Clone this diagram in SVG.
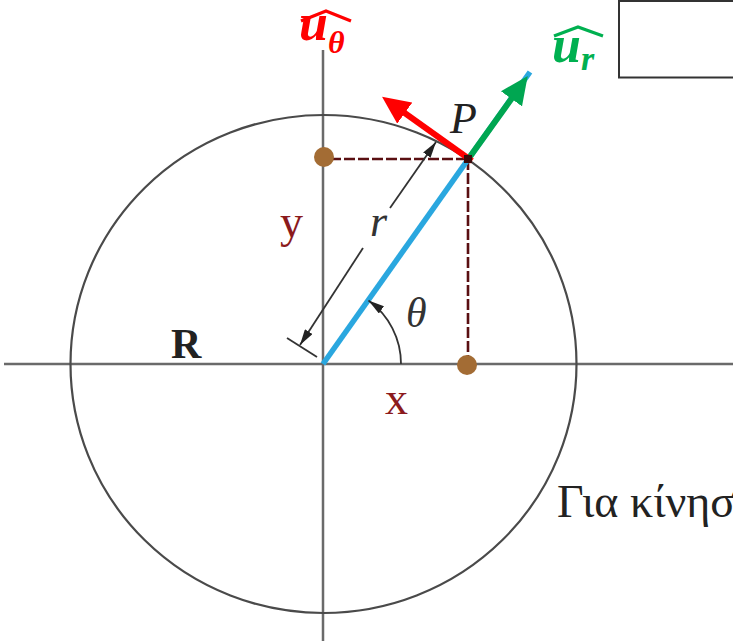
<svg xmlns="http://www.w3.org/2000/svg" width="733" height="641" viewBox="0 0 733 641">
<style>
.axis{stroke:#6a6a6a;stroke-width:2.5;fill:none}
.circ{stroke:#4a4a4a;stroke-width:2.2;fill:none}
.dash{stroke:#5a0f12;stroke-width:2.6;stroke-dasharray:11 3;fill:none}
.dot{fill:#a36c34}
.dim{stroke:#333;stroke-width:1.8;fill:none}
.lbl{font-family:"Liberation Serif","DejaVu Serif",serif}
.mr{fill:#8b1a1c;font-size:46px}
.hat{fill:none;stroke-width:3.2;stroke-linejoin:miter}
</style>
<defs>
<marker id="ahG" viewBox="0 0 28 26" refX="1" refY="13" markerWidth="28" markerHeight="26" markerUnits="userSpaceOnUse" orient="auto"><path d="M0,0 L28,13 L0,26 z" fill="#00a651"/></marker>
<marker id="ahR" viewBox="0 0 28 26" refX="1" refY="13" markerWidth="28" markerHeight="26" markerUnits="userSpaceOnUse" orient="auto"><path d="M0,0 L28,13 L0,26 z" fill="#ff0000"/></marker>
<marker id="ahK" viewBox="0 0 16 9" refX="16" refY="4.5" markerWidth="16" markerHeight="9" markerUnits="userSpaceOnUse" orient="auto"><path d="M0,0 L16,4.5 L0,9 z" fill="#222"/></marker>
</defs>
<rect width="733" height="641" fill="#fff"/>
<g id="axes">
<line class="axis" x1="4" y1="364" x2="733" y2="364"/>
<line class="axis" x1="323" y1="50" x2="323" y2="641"/>
</g>
<g id="circle"><ellipse class="circ" cx="323.5" cy="364" rx="253" ry="249"/></g>
<g id="connectors">
<line class="dash" x1="330" y1="159" x2="468" y2="159"/>
<line class="dash" x1="468" y1="159" x2="468" y2="356"/>
<line id="radius" x1="323" y1="364" x2="530" y2="72" stroke="#2aa7df" stroke-width="5.5"/>
<line class="dim" x1="363" y1="248" x2="300" y2="345" marker-end="url(#ahK)"/>
<line class="dim" x1="390" y1="208" x2="436" y2="142" marker-end="url(#ahK)"/>
<line class="dim" x1="287" y1="338" x2="317" y2="357"/>
<path class="dim" d="M401,364 A78,78 0 0 0 368.5,300.5" marker-end="url(#ahK)"/>
<line x1="469" y1="158" x2="512" y2="98" stroke="#00a651" stroke-width="6" marker-end="url(#ahG)"/>
<line x1="472" y1="161" x2="404" y2="112.5" stroke="#ff0000" stroke-width="6" marker-end="url(#ahR)"/>
<rect x="464" y="155" width="8" height="8" fill="#3a0a0a"/>
</g>
<g id="dot-y"><circle class="dot" cx="324" cy="157" r="10"/></g>
<g id="dot-x"><circle class="dot" cx="467" cy="365" r="10"/></g>
<g id="labels">
<text class="lbl" x="450" y="133" font-size="44" font-style="italic" fill="#222">P</text>
<text class="lbl" x="370" y="236" font-size="44" font-style="italic" fill="#333">r</text>
<text class="lbl" x="406" y="327" font-size="42" font-style="italic" fill="#333">θ</text>
<text class="lbl mr" x="280" y="237">y</text>
<text class="lbl mr" x="385" y="414">x</text>
<text class="lbl" x="171" y="358" font-size="42" font-weight="bold" fill="#222">R</text>
</g>
<g id="u-theta">
<polyline class="hat" stroke="#ff0000" points="301,21 326,11 351,21"/>
<text class="lbl" x="299" y="40" font-size="52" font-weight="bold" font-style="italic" fill="#ff0000">u<tspan font-size="32" dy="13">θ</tspan></text>
</g>
<g id="u-r">
<polyline class="hat" stroke="#00b050" points="554,36 578,27 603,36"/>
<text class="lbl" x="552" y="62" font-size="52" font-weight="bold" font-style="italic" fill="#00b050">u<tspan font-size="34" dy="8">r</tspan></text>
</g>
<g id="box"><rect x="619" y="1" width="130" height="76.5" fill="#fff" stroke="#333" stroke-width="2"/></g>
<g id="caption"><text class="lbl" x="557" y="517" font-size="46" fill="#222">Για κίνηση</text></g>
</svg>
